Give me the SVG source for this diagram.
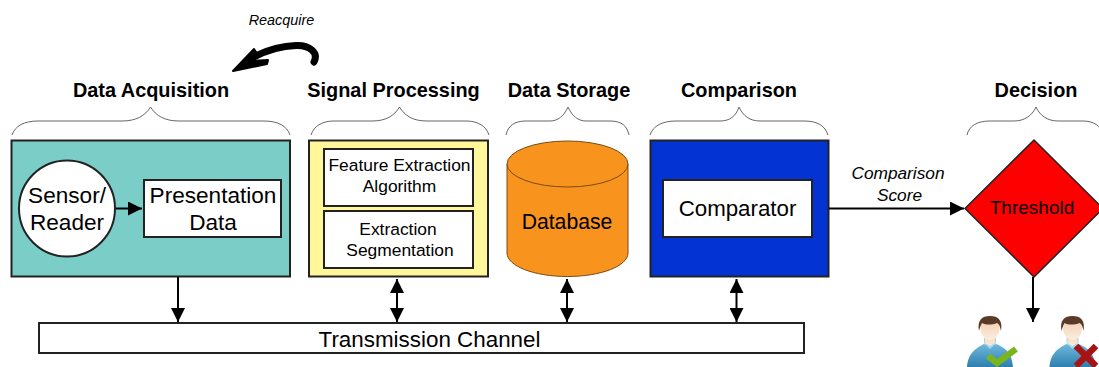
<svg xmlns="http://www.w3.org/2000/svg" width="1099" height="367" viewBox="0 0 1099 367">
<defs>
<marker id="ah" markerUnits="userSpaceOnUse" markerWidth="15" markerHeight="14" refX="14" refY="7" orient="auto-start-reverse"><path d="M0 0L14 7L0 14Z" fill="#000"/></marker>
<linearGradient id="face" x1="0" y1="0" x2="0" y2="1"><stop offset="0" stop-color="#f2c9a5"/><stop offset="1" stop-color="#fbeee0"/></linearGradient>
<linearGradient id="body" x1="0" y1="0" x2="0" y2="1"><stop offset="0" stop-color="#6fb9dc"/><stop offset="1" stop-color="#2e7fae"/></linearGradient>
<g id="user">
<path d="M-23 367C-22 352 -12 347 -6 344L0 346L6 344C14 347 22 352 23 367Z" fill="url(#body)"/>
<path d="M-6 343L0 349L6 343L6 338L-6 338Z" fill="#a8d8ea"/>
<path d="M-5 332H5V343L0 346L-5 343Z" fill="url(#face)"/>
<ellipse cx="0" cy="328" rx="9.500" ry="12" fill="url(#face)"/>
<path d="M-11 331C-13 320 -8 316 0 316C8 316 13 320 11 331C10 326 9 324 7 323C2 325 -4 325 -8 323C-9 325 -10 327 -11 331Z" fill="#5a3a28"/>
</g>
</defs>
<style>
text{font-family:"Liberation Sans",Arial,sans-serif;fill:#000;text-anchor:middle}
.h{font-size:19.900px;font-weight:700}
.i{font-size:17.300px;font-style:italic}
.box{stroke:#222;stroke-width:2}
.white{fill:#fff}
.brace{fill:none;stroke:#666;stroke-width:1}
.conn{fill:none;stroke:#000;stroke-width:2}
.n17{font-size:17.400px}
.n23{font-size:22.600px}
</style>
<g id="headings">
<text class="i" x="281.500" y="25" style="font-size:14.400px">Reacquire</text>
<text class="h" x="151" y="97">Data Acquisition</text>
<text class="h" x="393.500" y="97">Signal Processing</text>
<text class="h" x="569" y="97">Data Storage</text>
<text class="h" x="739" y="97">Comparison</text>
<text class="h" x="1036" y="97">Decision</text>
</g>
<g id="braces">
<path class="brace" d="M12 135C15 126 24 121 38 121H122C136 121 145 116 150.500 107C156 116 165 121 179 121H264C278 121 287 126 290 135"/>
<path class="brace" d="M311 135C314 126 322 121 334 121H372C386 121 394 116 399.500 107C405 116 413 121 427 121H466C478 121 486 126 489 135"/>
<path class="brace" d="M506 135C508 126 514 121 526 121H550C558 121 564 116 568 107C572 116 578 121 586 121H610C622 121 627 126 629 135"/>
<path class="brace" d="M650 135C653 126 662 121 676 121H720C730 121 736 116 739 107C743 116 750 121 760 121H804C818 121 825 126 828 135"/>
<path class="brace" d="M967 135C969 126 977 121 990 121H1014C1024 121 1032 116 1036 107C1040 116 1048 121 1058 121H1083C1094 121 1101 126 1103 135"/>
</g>
<g id="reacquire">
<path d="M314 62C319 52 309 45 296 45.500C278 46 262 52 248 60" fill="none" stroke="#000" stroke-width="7" stroke-linecap="round"/>
<path d="M233 71L254 49L256 52L247 61L268 60L267 64Z" fill="#000" stroke="#000" stroke-width="2" stroke-linejoin="round"/>
</g>
<g id="data-acquisition">
<rect class="box" x="11.500" y="140.500" width="278.500" height="136" fill="#7bcdc7"/>
</g>
<g id="sensor-reader">
<circle class="box white" cx="67" cy="208.500" r="48"/>
<text class="n23" x="67" y="203">Sensor/</text>
<text class="n23" x="67" y="230">Reader</text>
</g>
<g id="presentation-data">
<rect class="box white" x="144" y="180" width="137" height="57"/>
<text class="n23" x="213" y="203">Presentation</text>
<text class="n23" x="213" y="230">Data</text>
</g>
<g id="signal-processing">
<rect class="box" x="309" y="140.500" width="179" height="136" fill="#fff799"/>
</g>
<g id="feature-extraction">
<rect class="box white" x="324" y="149" width="149" height="57"/>
<text class="n17" x="399.500" y="171">Feature Extraction</text>
<text class="n17" x="399.500" y="192">Algorithm</text>
</g>
<g id="extraction-segmentation">
<rect class="box white" x="324" y="211" width="149" height="57"/>
<text class="n17" x="398" y="235">Extraction</text>
<text class="n17" x="400" y="256">Segmentation</text>
</g>
<g id="database">
<path d="M507 164V253C507 266 534 276.500 567.500 276.500C601 276.500 628 266 628 253V164Z" fill="#f8941d" stroke="#7a4a10" stroke-width="1"/>
<ellipse cx="567.500" cy="164" rx="60.500" ry="23" fill="#f8941d" stroke="#7a4a10" stroke-width="1"/>
<text x="567" y="229" style="font-size:21.200px">Database</text>
</g>
<g id="comparison">
<rect class="box" x="650.500" y="140.500" width="178" height="136" fill="#0433d3"/>
</g>
<g id="comparator">
<rect class="box white" x="663" y="180" width="149" height="57"/>
<text x="737.500" y="216" style="font-size:22.300px">Comparator</text>
</g>
<g id="threshold">
<path d="M1034 140L965 208.500L1034 277L1103 208.500Z" fill="#fe0000" stroke="#222" stroke-width="1.500"/>
<text x="1032" y="214" style="font-size:19px">Threshold</text>
</g>
<g id="transmission-channel">
<rect class="box white" x="39" y="323" width="765" height="30"/>
<text x="429.500" y="347" style="font-size:22.400px">Transmission Channel</text>
</g>
<g id="connectors">
<path class="conn" d="M116 208.500H142" marker-end="url(#ah)"/>
<path class="conn" d="M178 277V322" marker-end="url(#ah)"/>
<path class="conn" d="M397 279V322" marker-start="url(#ah)" marker-end="url(#ah)"/>
<path class="conn" d="M567 279V322" marker-start="url(#ah)" marker-end="url(#ah)"/>
<path class="conn" d="M736.500 279V322" marker-start="url(#ah)" marker-end="url(#ah)"/>
<path class="conn" d="M829 208.500H964" marker-end="url(#ah)"/>
<path class="conn" d="M1033 277V322" marker-end="url(#ah)"/>
</g>
<g id="score-label">
<text class="i" x="898" y="179">Comparison</text>
<text class="i" x="899.500" y="201">Score</text>
</g>
<g id="user-accept">
<use href="#user" x="990" y="0"/>
<path d="M988 356L997 363L1016 349" fill="none" stroke="#7ab51d" stroke-width="6.500"/>
</g>
<g id="user-reject">
<use href="#user" x="1072.500" y="0"/>
<path d="M1076 346L1096 366M1096 346L1076 366" fill="none" stroke="#a81414" stroke-width="6.500"/>
</g>
</svg>
